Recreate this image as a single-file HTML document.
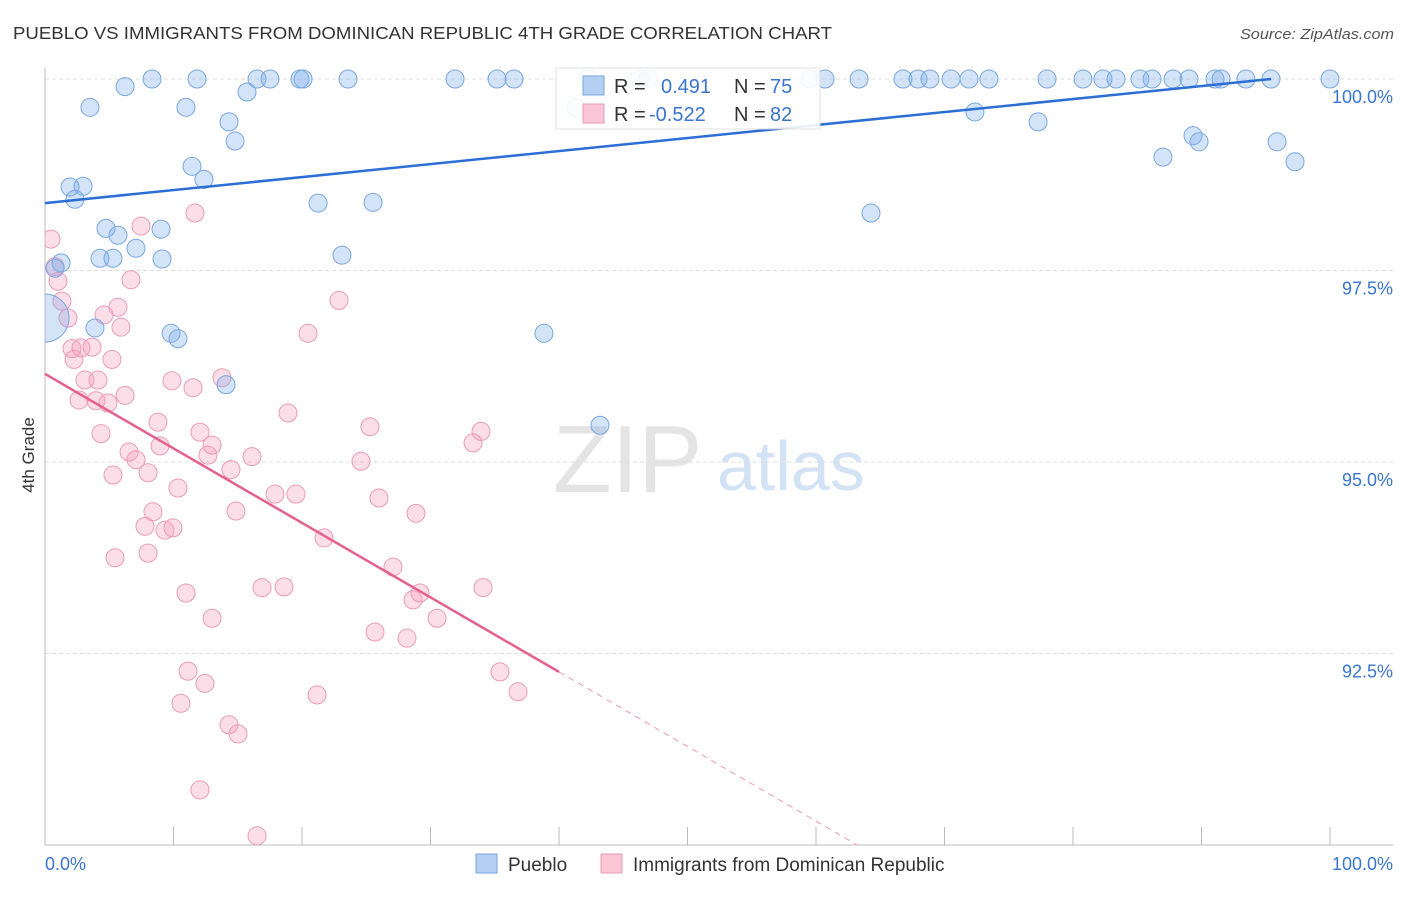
<!DOCTYPE html>
<html><head><meta charset="utf-8"><style>
body{margin:0;background:#fff;font-family:"Liberation Sans",sans-serif}
svg text{font-family:"Liberation Sans",sans-serif}
</style></head><body>
<svg id="chart" width="1406" height="892" xmlns="http://www.w3.org/2000/svg">
<defs><clipPath id="plotclip"><rect x="45" y="60" width="1360" height="785"/></clipPath></defs>
<text x="13" y="39" font-size="17.5" fill="#333" textLength="819" lengthAdjust="spacingAndGlyphs">PUEBLO VS IMMIGRANTS FROM DOMINICAN REPUBLIC 4TH GRADE CORRELATION CHART</text>
<text x="1394" y="39" font-size="15" fill="#555" text-anchor="end" font-style="italic" textLength="154" lengthAdjust="spacingAndGlyphs">Source: ZipAtlas.com</text>
<text transform="translate(34,455) rotate(-90)" font-size="17" fill="#333" text-anchor="middle">4th Grade</text>
<g>
<text x="553" y="492" font-size="96" fill="#e4e4e4" font-family="Liberation Serif">ZIP</text>
<text x="717" y="490" font-size="70" fill="#d4e2f5">atlas</text>
</g>
<g id="grid"></g><g id="axes"></g><g id="pts" clip-path="url(#plotclip)"></g><g id="lines"></g>
<g>
<rect x="556" y="68" width="264" height="61" fill="#fff" stroke="#ddd" opacity="0.9"/>
<rect x="583" y="76" width="21" height="19" fill="#b4cff2" stroke="#7aa7e0"/>
<rect x="583" y="104" width="21" height="19" fill="#fac6d6" stroke="#eb9bb5"/>
<text x="614" y="93" font-size="20" fill="#333">R = </text><text x="661" y="93" font-size="20" fill="#3a75d0">0.491</text>
<text x="734" y="93" font-size="20" fill="#333">N = </text><text x="770" y="93" font-size="20" fill="#3a75d0">75</text>
<text x="614" y="121" font-size="20" fill="#333">R = </text><text x="649" y="121" font-size="20" fill="#3a75d0">-0.522</text>
<text x="734" y="121" font-size="20" fill="#333">N = </text><text x="770" y="121" font-size="20" fill="#3a75d0">82</text>
</g>
<g>
<rect x="476" y="854" width="21" height="19" fill="#b4cff2" stroke="#7aa7e0"/>
<text x="508" y="871" font-size="19" fill="#333">Pueblo</text>
<rect x="601" y="854" width="21" height="19" fill="#fac6d6" stroke="#eb9bb5"/>
<text x="633" y="871" font-size="19" fill="#333">Immigrants from Dominican Republic</text>
</g>
</svg>
<script>
const yTicks=[100,97.5,95,92.5];
const yTickLabels=["100.0%","97.5%","95.0%","92.5%"];
const xTickLabels=["0.0%","100.0%"];
const blueX=[8.33,11.83,16.5,17.51,19.84,20.08,23.58,31.91,35.18,36.5,42.26,46.3,46.93,59.53,60.7,63.35,66.77,67.94,68.87,70.51,71.91,73.46,77.98,80.78,82.33,83.35,85.21,86.15,87.78,89.03,91.05,91.52,93.46,95.41,100,
6.23,15.72,3.5,10.97,41.32,72.37,14.32,14.79,77.28,89.34,89.81,87.0,95.88,97.28,11.44,12.37,1.95,2.96,2.33,21.25,25.53,64.28,4.75,5.68,9.03,7.08,4.28,5.29,9.11,23.11,1.25,0.78,0,3.89,9.81,10.35,38.83,14.09,43.19];
const blueY=[100,100,100,100,100,100,100,100,100,100,100,100,100,100,100,100,100,100,100,100,100,100,100,100,100,100,100,100,100,100,100,100,100,100,100,
99.9,99.83,99.63,99.63,99.63,99.57,99.44,99.19,99.44,99.26,99.18,98.98,99.18,98.92,98.86,98.69,98.59,98.6,98.43,98.38,98.39,98.25,98.05,97.96,98.04,97.79,97.66,97.66,97.65,97.7,97.6,97.53,96.88,96.75,96.68,96.61,96.68,96.01,95.48];
const pinkX=[0.47,0.78,1.01,1.32,1.79,2.1,2.26,2.8,3.66,5.21,6.69,5.68,4.59,5.91,7.47,11.67,22.88,20.47,3.11,4.12,2.65,3.97,4.9,6.23,9.88,11.52,13.77,4.36,8.79,6.54,8.95,7.08,8.02,5.29,10.35,12.68,13.0,12.06,14.47,16.11,18.91,25.29,24.59,33.31,33.93,17.9,19.53,14.86,8.4,7.78,9.34,9.96,21.71,25.99,28.87,27.08,5.45,8.02,10.97,13.0,16.89,18.6,28.64,29.18,30.51,34.09,25.68,28.17,11.13,12.45,10.58,21.17,14.32,15.02,35.41,36.81,12.06,16.5];
const pinkY=[97.91,97.55,97.36,97.1,96.88,96.48,96.34,96.49,96.5,96.34,97.38,97.02,96.92,96.76,98.08,98.25,97.11,96.68,96.07,96.07,95.81,95.8,95.77,95.87,96.06,95.97,96.1,95.37,95.52,95.13,95.21,95.03,94.86,94.83,94.66,95.09,95.22,95.39,94.9,95.07,95.64,95.46,95.01,95.25,95.4,94.58,94.58,94.36,94.35,94.16,94.11,94.14,94.01,94.53,94.33,93.63,93.75,93.81,93.29,92.96,93.36,93.37,93.2,93.29,92.96,93.36,92.78,92.7,92.27,92.11,91.85,91.96,91.57,91.45,92.26,92.0,90.72,90.12];
const blueTrend=[0,98.38,95.41,100];
const pinkTrend=[0,96.15,40,92.26];
const pinkDashEnd=[63.2,90];
const NS="http://www.w3.org/2000/svg";
const sx=v=>45+v*12.85, sy=v=>79+(100-v)*76.6;
function mk(p,t,a){const e=document.createElementNS(NS,t);for(const k in a)e.setAttribute(k,a[k]);p.appendChild(e);return e;}
const grid=document.getElementById('grid'),axes=document.getElementById('axes'),pts=document.getElementById('pts'),lines=document.getElementById('lines');
yTicks.forEach((t,i)=>{
 const l=mk(grid,'line',{x1:45,x2:1393,y1:sy(t),y2:sy(t),stroke:'#ddd','stroke-dasharray':'4,3'});
 
 
 const tx=mk(axes,'text',{x:1393,y:sy(t)+24,'font-size':18,fill:'#3a75d0','text-anchor':'end'});
 tx.textContent=yTickLabels[i];
 
 
});
mk(axes,'line',{x1:45,x2:45,y1:68,y2:845,stroke:'#bbb'});
mk(axes,'line',{x1:45,x2:1393,y1:845,y2:845,stroke:'#bbb'});
for(let i=1;i<=10;i++){const t=mk(axes,'line',{x1:sx(i*10),x2:sx(i*10),y1:827,y2:845,stroke:'#bbb'});
 
 }
const xl0=mk(axes,'text',{x:45,y:870,'font-size':18,fill:'#3a75d0'});xl0.textContent=xTickLabels[0];


const xl1=mk(axes,'text',{x:1393,y:870,'font-size':18,fill:'#3a75d0','text-anchor':'end'});xl1.textContent=xTickLabels[1];


pinkX.forEach((x,i)=>{const c=mk(pts,'circle',{cx:sx(x),cy:sy(pinkY[i]),r:9,fill:'rgba(245,160,190,0.35)',stroke:'#eb9bb5','stroke-width':1});
 
 });
blueX.forEach((x,i)=>{const c=mk(pts,'circle',{cx:sx(x),cy:sy(blueY[i]),r:(x===0?24:9),fill:'rgba(130,175,235,0.35)',stroke:'#7aa7e0','stroke-width':1});
 
 });
const bl=mk(lines,'line',{x1:sx(blueTrend[0]),y1:sy(blueTrend[1]),x2:sx(blueTrend[2]),y2:sy(blueTrend[3]),stroke:'#2b6fd6','stroke-width':2.5});


const pl=mk(lines,'line',{x1:sx(pinkTrend[0]),y1:sy(pinkTrend[1]),x2:sx(pinkTrend[2]),y2:sy(pinkTrend[3]),stroke:'#e4608e','stroke-width':2.5});


const pd=mk(lines,'line',{x1:sx(pinkTrend[2]),y1:sy(pinkTrend[3]),x2:sx(pinkDashEnd[0]),y2:sy(pinkDashEnd[1]),stroke:'#eb9bb5','stroke-width':1,'stroke-dasharray':'6,5'});


</script>
</body></html>
